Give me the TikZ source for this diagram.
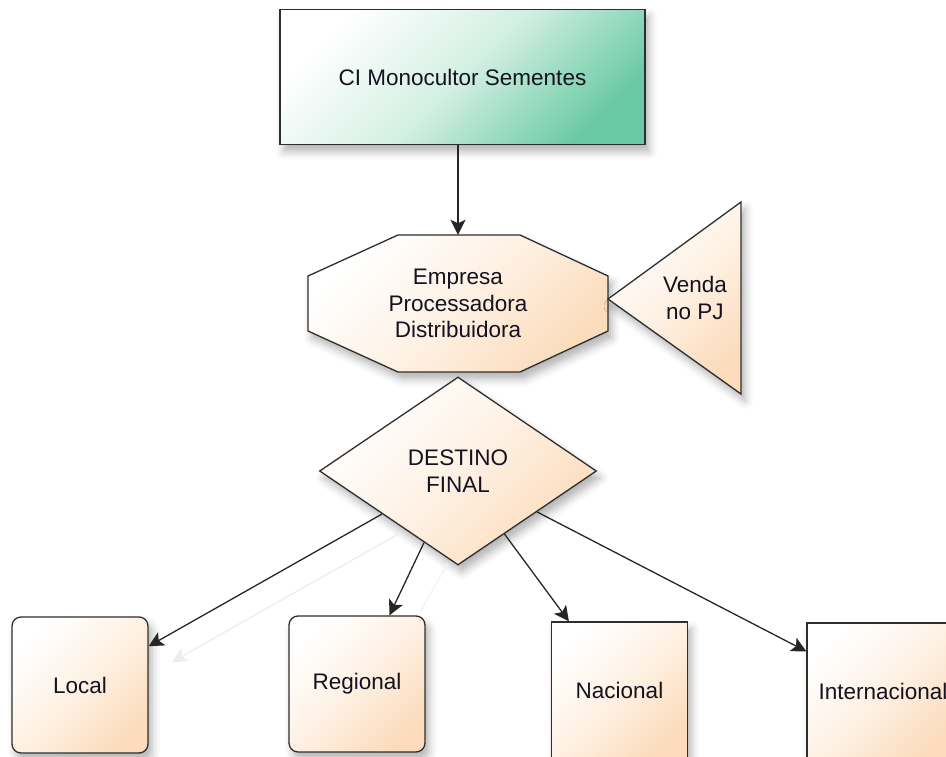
\documentclass[tikz,border=0pt]{standalone}
\usepackage{fontspec}
\setmainfont{Liberation Sans}
\usetikzlibrary{arrows.meta,shapes.geometric,shadows.blur}

\definecolor{seedgreen}{HTML}{6ACAA5}
\definecolor{seedmid}{HTML}{D2EFE3}
\definecolor{peach}{HTML}{FCDCBC}
\definecolor{peachmid}{HTML}{FEF1E4}
\definecolor{edgegray}{HTML}{2E2E2E}
\definecolor{inkcol}{HTML}{15121F}

\tikzset{
  softshadow/.style={blur shadow={shadow xshift=4pt, shadow yshift=-7pt,
      shadow blur radius=8pt, shadow opacity=30}},
  greenbox/.style={draw=edgegray, line width=1.4pt, softshadow,
      top color=white, bottom color=seedgreen, middle color=seedmid,
      shading angle=45},
  peachfill/.style={draw=edgegray, line width=1.3pt, softshadow,
      top color=white, bottom color=peach, middle color=peachmid,
      shading angle=45},
  labeltext/.style={text=inkcol, align=center, inner sep=0pt,
      font=\fontsize{22.5}{26.5}\selectfont},
  destbox/.style={peachfill, labeltext, minimum width=136pt,
      minimum height=136pt},
  flow/.style={draw=black!85, line width=1.3pt,
      -{Stealth[length=15pt, width=15pt, inset=3.5pt]}},
  ghostflow/.style={draw=black!7, line width=1.3pt,
      -{Stealth[length=15pt, width=15pt, inset=3.5pt]}},
}

\begin{document}
\begin{tikzpicture}[x=1pt, y=-1pt]
  \useasboundingbox (0,0) rectangle (946,757);
  \clip (0,0) rectangle (946,757);

  % supplier at the top
  \node (seed) [greenbox, labeltext, minimum width=365pt, minimum height=135pt]
    at (462.5,77) {CI Monocultor Sementes};

  % processing company (octagon) and the side triangle
  \path[peachfill] (398,235) -- (520,235) -- (608,276) -- (608,331)
    -- (520,372) -- (398,372) -- (308,331) -- (308,276) -- cycle;
  \node (proc) [labeltext, minimum width=300pt, minimum height=137pt]
    at (458,303.5) {Empresa\\Processadora\\Distribuidora};

  \path[peachfill] (608,299) -- (741,202) -- (741,394) -- cycle;
  \node (venda) [labeltext] at (695,298) {Venda\\no PJ};

  % final destination decision
  \node (dest) [diamond, peachfill, labeltext, aspect=1.47,
      minimum width=277pt, minimum height=188pt] at (458,471)
    {DESTINO\\FINAL};

  % destination boxes
  \node (local) [destbox, rounded corners=9pt] at (80,685) {Local};
  \node (regional) [destbox, rounded corners=9pt] at (357,684) {Regional};
  \node (nacional) [destbox] at (619.5,690) {Nacional};
  \node (inter) [destbox, minimum width=152pt] at (883,691) {Internacional};

  % faint connector shadows
  \coordinate (gl1) at (400,533);
  \coordinate (gl2) at (172,662);
  \coordinate (gr1) at (448,563);
  \coordinate (gr2) at (420,612);
  \draw[ghostflow] (gl1) -- (gl2);
  \draw[draw=black!5, line width=1.2pt] (gr1) -- (gr2);

  % connectors
  \draw[flow] (proc.north |- seed.south) -- (proc.north);
  \draw[flow] (dest) -- (local);
  \draw[flow] (dest) -- (regional);
  \draw[flow] (dest) -- (nacional);
  \draw[flow] (dest) -- (inter);
\end{tikzpicture}
\end{document}
